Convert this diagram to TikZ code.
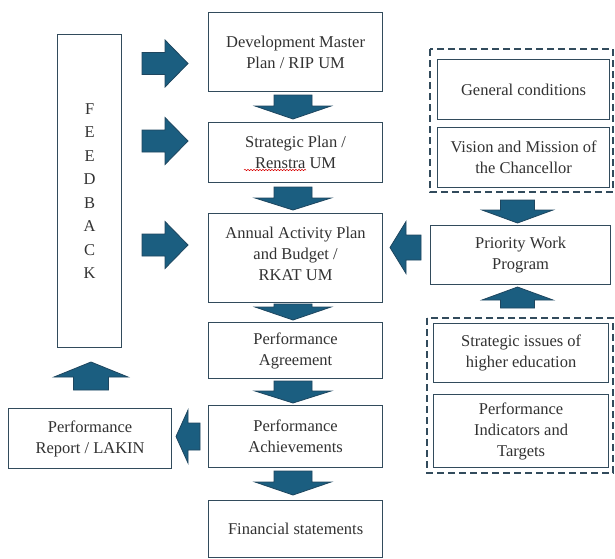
\documentclass[tikz,border=0pt]{standalone}
\usepackage{fontspec}
\setmainfont{Liberation Serif}
\usetikzlibrary{decorations.pathmorphing}
\definecolor{arrfill}{RGB}{27,94,128}
\definecolor{arrdraw}{RGB}{30,70,95}
\definecolor{boxline}{RGB}{50,75,92}
\definecolor{txt}{RGB}{50,50,50}
\newcommand\vbarrow[6]{% cx, ytail, ybase, ytip, shaft half, head half
  \draw[barrow] (#1-#5,#2) -- (#1+#5,#2) -- (#1+#5,#3) -- (#1+#6,#3) -- (#1,#4) -- (#1-#6,#3) -- (#1-#5,#3) -- cycle;}
\newcommand\hbarrow[6]{% cy, xtail, xbase, xtip, shaft half, head half
  \draw[barrow] (#2,#1-#5) -- (#3,#1-#5) -- (#3,#1-#6) -- (#4,#1) -- (#3,#1+#6) -- (#3,#1+#5) -- (#2,#1+#5) -- cycle;}
\begin{document}
\begin{tikzpicture}[x=1pt,y=-1pt,
  box/.style={draw=boxline, line width=1.2pt, align=center, text=txt,
    font=\fontsize{16.5}{21}\selectfont, inner sep=0pt, anchor=north west},
  lbl/.style={align=center, text=txt, font=\fontsize{16.5}{21}\selectfont, inner sep=0pt},
  dbox/.style={draw=boxline, line width=1.4pt, dash pattern=on 7pt off 4pt},
  barrow/.style={fill=arrfill, draw=arrdraw, line width=0.8pt, line join=miter}]
\useasboundingbox (0,0) rectangle (615,558);
\fill[white] (0,0) rectangle (615,558);

% main column
\node[box, minimum width=174pt, minimum height=79pt] (dev) at (208,12) {Development Master\\Plan / RIP UM};
\node[box, minimum width=174pt, minimum height=60pt] (sp) at (208,122) {Strategic Plan /\\Renstra UM};
\node[box, minimum width=174pt, minimum height=89pt] (rkat) at (208,213) {};
\node[lbl] (rkattext) at ([yshift=4pt]rkat.center) {Annual Activity Plan\\and Budget /\\RKAT UM};
\node[box, minimum width=174pt, minimum height=56pt] (pa) at (208,322) {Performance\\Agreement};
\node[box, minimum width=174pt, minimum height=62pt] (pach) at (208,405) {Performance\\Achievements};
\node[box, minimum width=174pt, minimum height=57pt] (fin) at (208,500) {Financial statements};

% left column
\node[box, minimum width=64pt, minimum height=313pt, font=\fontsize{16.5}{23.5}\selectfont] (fb) at (57,34) {F\\E\\E\\D\\B\\A\\C\\K};
\node[box, minimum width=163pt, minimum height=60pt] (rep) at (8,408) {Performance\\Report / LAKIN};

% right column
\draw[dbox] (430,49) rectangle (613,192);
\node[box, minimum width=172pt, minimum height=60pt] (gc) at (437,59) {General conditions};
\node[box, minimum width=172pt, minimum height=60pt] (vm) at (437,127) {Vision and Mission of\\the Chancellor};
\node[box, minimum width=180pt, minimum height=59pt] (pwp) at (430,225) {Priority Work\\Program};
\draw[dbox] (427,318) rectangle (613,473);
\node[box, minimum width=175pt, minimum height=59pt] (si) at (433,323) {Strategic issues of\\higher education};
\node[box, minimum width=175pt, minimum height=73pt] (pi) at (433,394) {Performance\\Indicators and\\Targets};

% spell-check underline
\draw[red!85!black, line width=0.5pt, decorate, decoration={snake, amplitude=0.7pt, segment length=3pt}] (244,170) -- (306,170);

% down arrows, main column
\vbarrow{293}{95}{106}{119}{19}{38}
\vbarrow{293}{187}{198}{210}{19}{38}
\vbarrow{293}{304}{307}{320}{19}{38}
\vbarrow{293}{381}{391}{403}{19}{38}
\vbarrow{293}{471}{482}{495}{19}{38}

% right column arrows
\vbarrow{517.5}{200}{210}{223}{17}{35.5}
\vbarrow{517.5}{308}{300}{287}{17}{35.5}

% feedback up arrow
\vbarrow{91}{390}{377}{362}{17.5}{37}

% right arrows into main column
\hbarrow{63.5}{142}{165}{188}{11}{23.5}
\hbarrow{141}{142}{165}{188}{11}{23.5}
\hbarrow{245}{142}{165}{188}{11}{23.5}

% left arrows
\hbarrow{247.5}{421}{406}{390}{12.5}{26}
\hbarrow{436.5}{200}{188}{176}{13.5}{26.5}
\end{tikzpicture}
\end{document}
